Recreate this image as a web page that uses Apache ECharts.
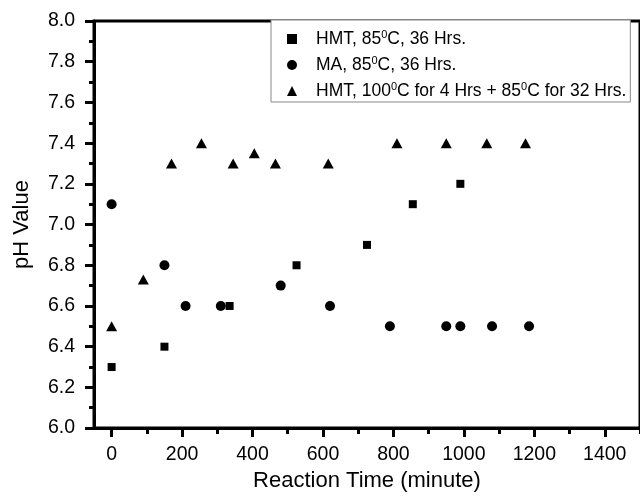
<html lang="en">
<head>
	<meta charset="UTF-8">
	<title></title>
	<style>
		body { margin: 0; background: #fff; }
		#chart { width: 640px; height: 497px; }
	</style>
</head>
<body>
	<div id="chart"></div>
	<script type="text/javascript" src="https://cdn.jsdelivr.net/npm/echarts@6/dist/echarts.min.js"></script>
	<script type="text/javascript">
		// data
		var seriesNames = ['HMT, 85⁰C, 36 Hrs.', 'MA, 85⁰C, 36 Hrs.', 'HMT, 100⁰C for 4 Hrs + 85⁰C for 32 Hrs.']
		var hmtTime = [0, 150, 335, 525, 725, 855, 990]
		var hmtPH = [6.3, 6.4, 6.6, 6.8, 6.9, 7.1, 7.2]
		var maTime = [0, 150, 210, 310, 480, 620, 790, 950, 990, 1080, 1185]
		var maPH = [7.1, 6.8, 6.6, 6.6, 6.7, 6.6, 6.5, 6.5, 6.5, 6.5, 6.5]
		var hmt2Time = [0, 90, 170, 255, 345, 405, 465, 615, 810, 950, 1065, 1175]
		var hmt2PH = [6.5, 6.73, 7.3, 7.4, 7.3, 7.35, 7.3, 7.3, 7.4, 7.4, 7.4, 7.4]
		var xMajorTicks = [0, 200, 400, 600, 800, 1000, 1200, 1400]
		var xMinorTicks = [100, 300, 500, 700, 900, 1100, 1300, 1500]

		function pairs(xs, ys) {
			return xs.map(function (x, i) { return [x, ys[i]] })
		}

		var font = 'Liberation Sans, Arial, sans-serif'
		var black = { color: '#000', opacity: 1 }
		var option = {
			animation: false,
			backgroundColor: '#fff',
			grid: {
				left: 94,
				top: 21,
				bottom: 67,
				width: 552,
				show: true,
				borderColor: '#000',
				borderWidth: 3
			},
			legend: {
				orient: 'vertical',
				left: 271,
				top: 20,
				padding: [9, 4, 2, 16],
				itemWidth: 10,
				itemHeight: 10,
				itemGap: 7,
				backgroundColor: '#fff',
				borderColor: '#888',
				borderWidth: 1,
				formatter: function (name) {
					return '{n|' + name.replace(/⁰/g, '}{s|0}{n|') + '}'
				},
				textStyle: {
					padding: [0, 0, 0, 14],
					rich: {
						n: { fontSize: 17.5, fontFamily: font, color: '#000', lineHeight: 20 },
						s: { fontSize: 11, fontFamily: font, color: '#000', verticalAlign: 'top', lineHeight: 20, padding: [0, 0, 8, 0] }
					}
				},
				data: [
					{ name: seriesNames[0], icon: 'rect', itemStyle: black },
					{ name: seriesNames[1], icon: 'circle', itemStyle: black },
					{ name: seriesNames[2], icon: 'triangle', itemStyle: black }
				]
			},
			xAxis: [{
				type: 'value',
				min: -50,
				max: 1500,
				name: 'Reaction Time (minute)',
				nameLocation: 'middle',
				nameGap: 40,
				nameTextStyle: { fontSize: 22, fontFamily: font, color: '#000' },
				splitLine: { show: false },
				axisLine: { onZero: false, lineStyle: { color: '#000', width: 3 } },
				axisTick: { customValues: xMajorTicks, length: 9, lineStyle: { color: '#000', width: 3 } },
				axisLabel: {
					customValues: xMajorTicks, margin: 17, fontSize: 19.5, fontFamily: font, color: '#000',
					formatter: function (v) { return String(v) }
				}
			}, {
				type: 'value',
				min: -50,
				max: 1500,
				position: 'bottom',
				splitLine: { show: false },
				axisLine: { show: false, onZero: false },
				axisTick: { customValues: xMinorTicks, length: 6, lineStyle: { color: '#000', width: 3 } },
				axisLabel: { show: false }
			}],
			yAxis: {
				type: 'value',
				min: 6,
				max: 8,
				interval: 0.2,
				name: 'pH Value',
				nameLocation: 'middle',
				nameGap: 61,
				nameTextStyle: { fontSize: 22, fontFamily: font, color: '#000' },
				splitLine: { show: false },
				axisLine: { onZero: false, lineStyle: { color: '#000', width: 3 } },
				axisTick: { length: 9, lineStyle: { color: '#000', width: 3 } },
				minorTick: { show: true, splitNumber: 2, length: 5, lineStyle: { color: '#000', width: 3 } },
				axisLabel: {
					margin: 19, fontSize: 19.5, fontFamily: font, color: '#000',
					formatter: function (v) { return v.toFixed(1) }
				}
			},
			series: [{
				name: seriesNames[0],
				type: 'scatter',
				symbol: 'rect',
				symbolSize: 8,
				itemStyle: black,
				data: pairs(hmtTime, hmtPH)
			}, {
				name: seriesNames[1],
				type: 'scatter',
				symbol: 'circle',
				symbolSize: 10,
				itemStyle: black,
				data: pairs(maTime, maPH)
			}, {
				name: seriesNames[2],
				type: 'scatter',
				symbol: 'triangle',
				symbolSize: [11, 10],
				itemStyle: black,
				data: pairs(hmt2Time, hmt2PH)
			}]
		}
		var myChart = echarts.init(document.getElementById('chart'))
		myChart.setOption(option)
	</script>
</body>
</html>
